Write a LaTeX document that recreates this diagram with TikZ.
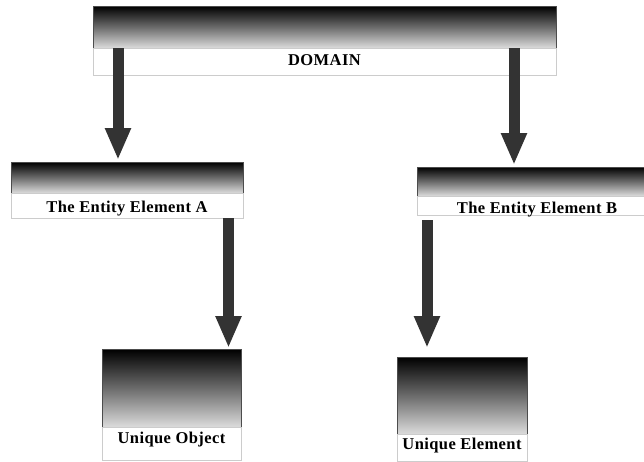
\documentclass[tikz,border=0pt]{standalone}
\usepackage{fontspec}
\setmainfont{Liberation Serif}[LetterSpace=2.5]
\usetikzlibrary{arrows.meta,calc}
\begin{document}
\begin{tikzpicture}[x=1pt,y=-1pt,
  gbox/.style={draw=black!70, line width=0.8pt, top color=black, bottom color=black!14, middle color=black!58,
    inner sep=0pt, outer sep=0pt, anchor=north west},
  lbox/.style={draw=black!20, line width=0.8pt, fill=white, inner xsep=0pt, inner ysep=0pt,
    outer sep=0pt, anchor=north west, font=\bfseries\fontsize{16.5}{18}\selectfont},
  arr/.style={draw=black!80, line width=11pt, -{Triangle[width=24pt,length=32pt]}}]
\useasboundingbox (0,0) rectangle (644,461);
\clip (0,0) rectangle (644,461);
% Domain
\node[gbox, minimum width=463pt, minimum height=42pt] (domG) at (93,6) {};
\node[lbox, minimum width=463pt, text height=17.5pt, text depth=9.5pt] (domL) at (domG.south west) {DOMAIN};
% Entity A
\node[gbox, minimum width=232pt, minimum height=31pt] (entAG) at (11,162) {};
\node[lbox, minimum width=232pt, text height=19pt, text depth=6pt] (entAL) at (entAG.south west) {The Entity Element A};
% Entity B
\node[gbox, minimum width=240pt, minimum height=29pt] (entBG) at (417,167) {};
\node[lbox, minimum width=240pt, text height=17pt, text depth=2pt] (entBL) at (entBG.south west) {The Entity Element B};
% Unique Object
\node[gbox, minimum width=139pt, minimum height=78pt] (uoG) at (102,349) {};
\node[lbox, minimum width=139pt, text height=16.5pt, text depth=16.5pt] (uoL) at (uoG.south west) {Unique Object};
% Unique Element
\node[gbox, minimum width=130pt, minimum height=77pt] (ueG) at (397,357) {};
\node[lbox, minimum width=130pt, text height=15.5pt, text depth=11.5pt] (ueL) at (ueG.south west) {Unique Element};
% Arrows
\draw[arr] ($(domG.south west)+(25,0)$) -- ($(entAG.north west)+(107,-2)$);
\draw[arr] ($(domG.south west)+(421,0)$) -- ($(entBG.north west)+(97,-2)$);
\draw[arr] ($(entAL.south west)+(217.5,0)$) -- ($(uoG.north west)+(126.5,-1)$);
\draw[arr] ($(entBL.south west)+(10,5)$) -- ($(ueG.north west)+(30,-9)$);
\end{tikzpicture}
\end{document}
